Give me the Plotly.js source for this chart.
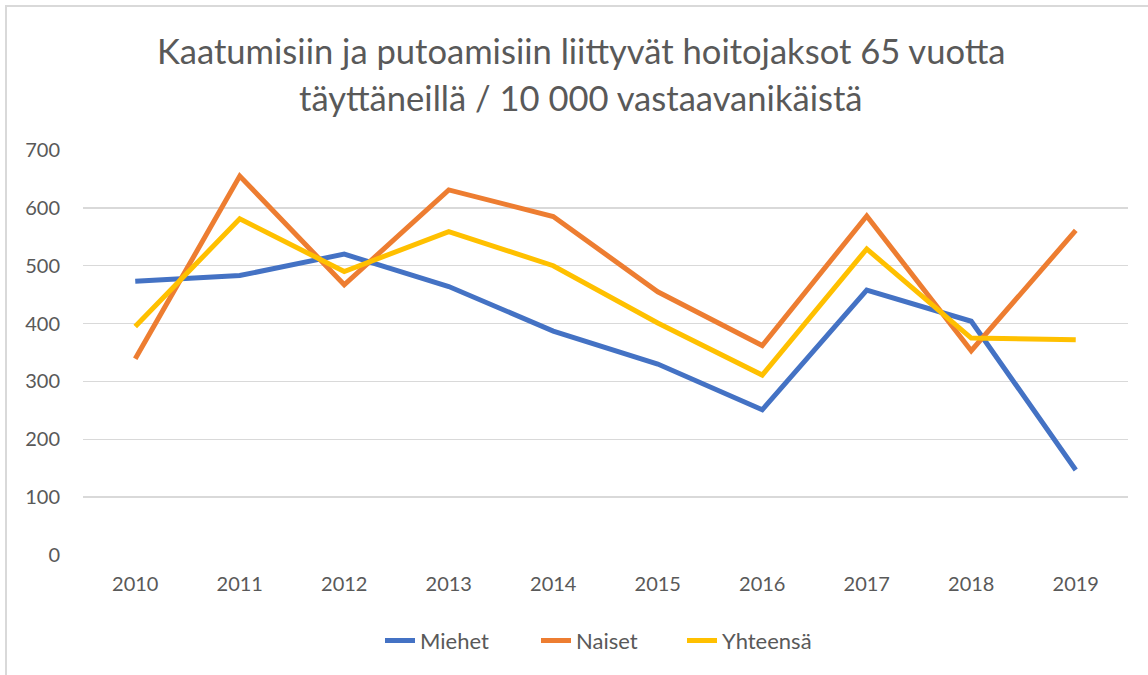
<!DOCTYPE html>
<html>
<head>
<meta charset="utf-8">
<script src="https://cdn.plot.ly/plotly-3.0.1.min.js"></script>
<style>
  html, body { margin: 0; padding: 0; background: #fff; }
  #wrap { position: relative; width: 1148px; height: 675px; }
  #chart { width: 1148px; height: 675px; }
  #frame { position: absolute; left: 5px; top: 5px; right: 0; bottom: 0;
           border-left: 2px solid #d9d9d9; border-top: 2px solid #d9d9d9; pointer-events: none; }
</style>
</head>
<body>
<div id="wrap"><div id="chart"></div><div id="frame"></div></div>
<script>
const years = ['2010','2011','2012','2013','2014','2015','2016','2017','2018','2019'];
const miehet = [473, 483, 520, 464, 387, 330, 251, 458, 404, 147];
const naiset = [339, 655, 467, 631, 585, 455, 362, 586, 353, 561];
const yhteensa = [395, 581, 490, 559, 500, 401, 311, 529, 375, 372];
const yTicks = [0, 100, 200, 300, 400, 500, 600, 700];
const titleLines = ['Kaatumisiin ja putoamisiin liittyvät hoitojaksot 65 vuotta',
                    'täyttäneillä / 10 000 vastaavanikäistä'];

const FONT = 'Lato, "Open Sans", sans-serif';
const mk = (name, y, color, lg) => ({
  x: years, y: y, name: name, type: 'scatter', mode: 'lines',
  line: { color: color, width: 5 }, legend: lg
});

const data = [
  mk('Miehet', miehet, '#4472C4', 'legend'),
  mk('Naiset', naiset, '#ED7D31', 'legend2'),
  mk('Yhteensä', yhteensa, '#FFC000', 'legend3')
];

const L = 83, R = 20, T = 150, B = 120, W = 1148, H = 675;
const plotW = W - L - R, plotH = H - T - B;
const titleAnn = (txt, yPx) => ({
  text: txt, xref: 'paper', yref: 'paper', x: (581 - L) / plotW, xanchor: 'center',
  y: (H - B - yPx) / plotH, yanchor: 'middle', showarrow: false,
  font: { family: FONT, size: 34.6, color: '#595959' }
});
const leg = (px) => ({
  orientation: 'h', x: (px - L) / plotW, xanchor: 'left', y: -0.16, yanchor: 'top',
  font: { size: 22, color: '#595959', family: FONT }, bgcolor: 'rgba(0,0,0,0)'
});

const layout = {
  width: W, height: H,
  margin: { l: L, r: R, t: T, b: B },
  paper_bgcolor: '#fff', plot_bgcolor: '#fff',
  font: { family: FONT, color: '#595959' },
  annotations: [titleAnn(titleLines[0], 50), titleAnn(titleLines[1], 97)],
  xaxis: {
    type: 'category', range: [-0.5, 9.5], showgrid: false, zeroline: false, showline: false,
    ticks: '', tickfont: { size: 20, color: '#595959' }, ticklabelstandoff: 15
  },
  yaxis: {
    range: [0, 700], tickvals: yTicks, showgrid: true, gridcolor: '#d9d9d9', gridwidth: 1.3,
    zeroline: false, showline: false, ticks: '',
    tickfont: { size: 20, color: '#595959' }, ticklabelstandoff: 22
  },
  showlegend: true,
  legend: leg(380),
  legend2: leg(536),
  legend3: leg(682)
};

Plotly.newPlot('chart', data, layout, { displayModeBar: false, staticPlot: true });
</script>
</body>
</html>
